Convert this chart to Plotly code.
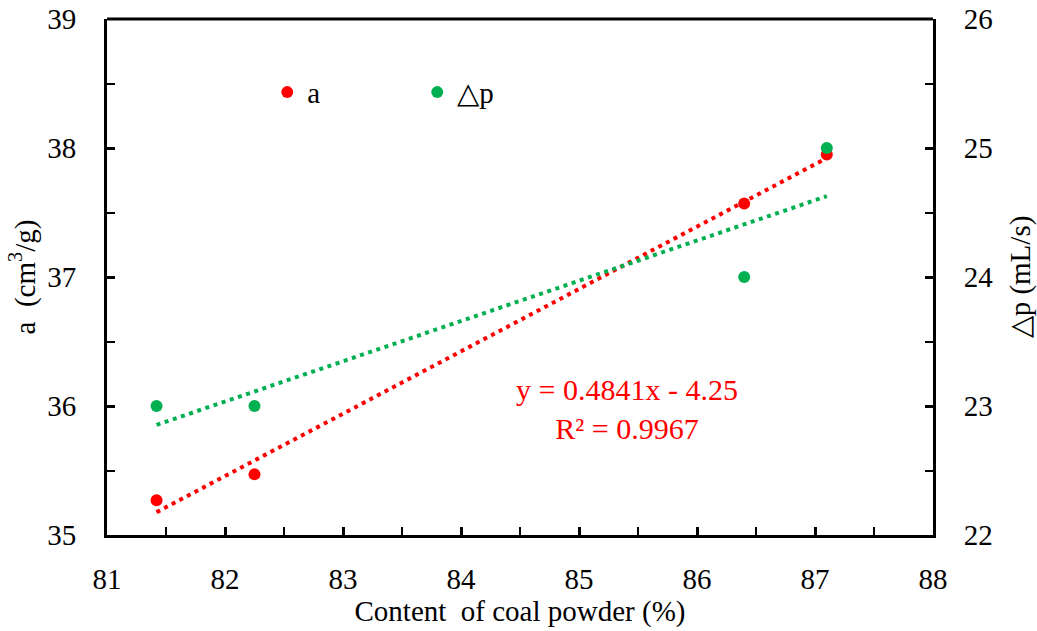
import numpy as np
import plotly.graph_objects as go

coal = [81.42, 82.25, 86.40, 87.10]
a_vals = [35.27, 35.47, 37.57, 37.95]
dp_vals = [23.0, 23.0, 24.0, 25.0]

x_ticks = [81, 82, 83, 84, 85, 86, 87, 88]
eq_text = "y = 0.4841x - 4.25<br>R² = 0.9967"

RED = "#FF0000"
GREEN = "#00B050"
FONT = "Liberation Serif"
FS = 29

xs = np.array(coal)
ka, ba = np.polyfit(xs, a_vals, 1)
kd, bd = np.polyfit(xs, dp_vals, 1)
xl = [min(coal), max(coal)]

fig = go.Figure()
fig.add_trace(go.Scatter(x=xl, y=[ka * v + ba for v in xl], mode="lines",
                         line=dict(color=RED, width=4, dash="4px,4.6px"),
                         showlegend=False, hoverinfo="skip"))
fig.add_trace(go.Scatter(x=coal, y=a_vals, mode="markers", name="a",
                         marker=dict(color=RED, size=12)))
fig.add_trace(go.Scatter(x=xl, y=[kd * v + bd for v in xl], mode="lines",
                         line=dict(color=GREEN, width=4, dash="4px,4.6px"),
                         showlegend=False, hoverinfo="skip", yaxis="y2"))
fig.add_trace(go.Scatter(x=coal, y=dp_vals, mode="markers", name="△p",
                         marker=dict(color=GREEN, size=12), yaxis="y2"))

minor = dict(ticks="inside", ticklen=8, tickwidth=2, tickcolor="black", dtick=0.5)
axis_common = dict(showline=True, linecolor="black", linewidth=3, mirror=False,
                   ticks="inside", ticklen=8, tickwidth=2.5, tickcolor="black",
                   showgrid=False, zeroline=False, automargin=False,
                   tickfont=dict(family=FONT, size=FS, color="black"),
                   minor=minor)

fig.update_layout(
    width=1037, height=631,
    margin=dict(l=107, r=104, t=19, b=96),
    plot_bgcolor="white", paper_bgcolor="white",
    font=dict(family=FONT, color="black", size=FS),
    xaxis=dict(range=[81, 88], tickvals=x_ticks, ticklabelstandoff=16,
               title=dict(text="Content  of coal powder (%)", font=dict(family=FONT, size=FS), standoff=6),
               **axis_common),
    yaxis=dict(range=[35, 39], dtick=1, ticklabelstandoff=22,
               title=dict(text="a  (cm<sup>3</sup>/g)", font=dict(family=FONT, size=FS), standoff=4),
               **axis_common),
    yaxis2=dict(range=[22, 26], dtick=1, overlaying="y", side="right", ticklabelstandoff=22,
                title=dict(text="△p (mL/s)", font=dict(family=FONT, size=FS), standoff=18),
                **axis_common),
    legend=dict(orientation="h", x=0.194, y=0.858, xanchor="left", yanchor="middle",
                entrywidth=105, entrywidthmode="pixels",
                font=dict(family=FONT, size=FS, color="black"), bgcolor="rgba(0,0,0,0)"),
    shapes=[dict(type="line", xref="paper", yref="paper", x0=0, x1=1, y0=1, y1=1,
                 line=dict(color="black", width=3))],
    annotations=[dict(text=eq_text, x=85.41, y=35.98, xref="x", yref="y",
                      showarrow=False, font=dict(family=FONT, size=30, color=RED),
                      align="center")],
)

fig.write_html("out.html")
